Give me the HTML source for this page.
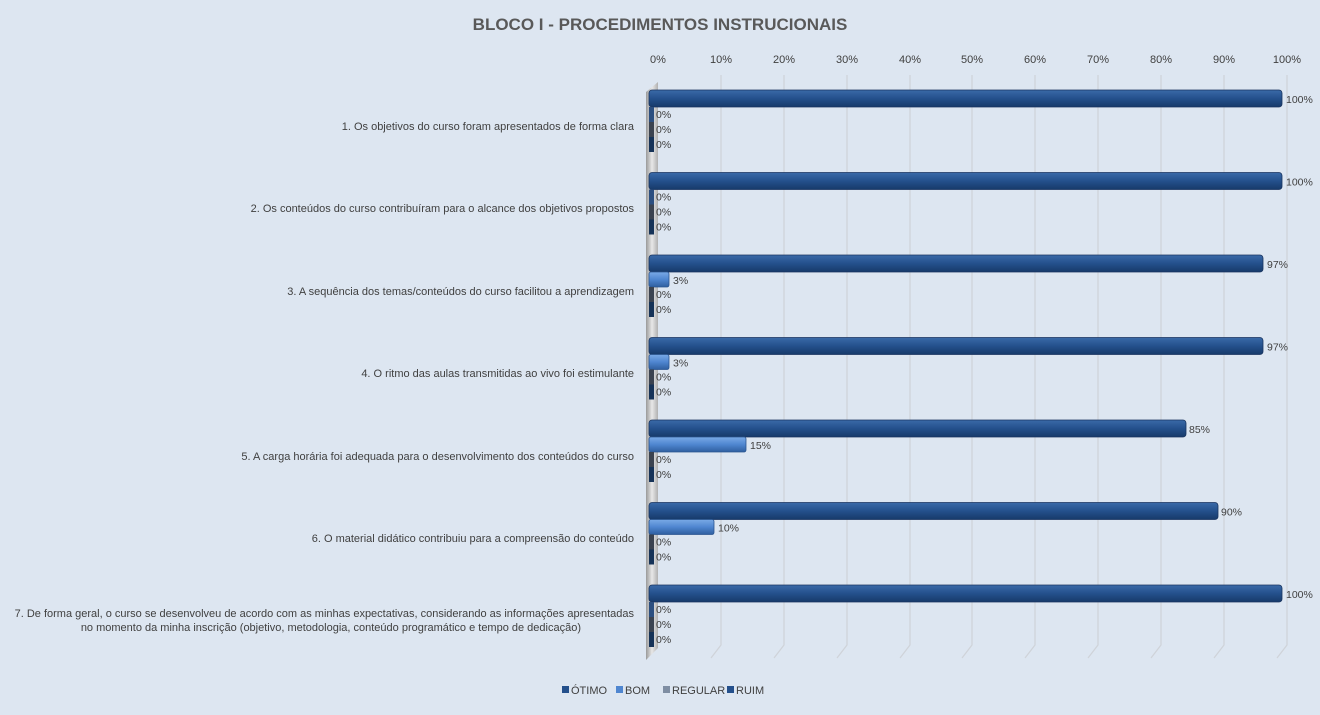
<!DOCTYPE html>
<html><head><meta charset="utf-8"><style>
body{margin:0;width:1320px;height:710px;background:#dde6f1;overflow:hidden}
</style></head><body>
<svg width="1320" height="710" xmlns="http://www.w3.org/2000/svg" font-family="Liberation Sans, sans-serif">
<defs>
<linearGradient id="g1" x1="0" y1="0" x2="0" y2="1"><stop offset="0" stop-color="#3a6aa8"/><stop offset="0.5" stop-color="#24508c"/><stop offset="1" stop-color="#173a6a"/></linearGradient>
<linearGradient id="g2" x1="0" y1="0" x2="0" y2="1"><stop offset="0" stop-color="#7aaae6"/><stop offset="0.5" stop-color="#4f86d0"/><stop offset="1" stop-color="#2f5f9f"/></linearGradient>
<linearGradient id="w" x1="0" y1="0" x2="1" y2="0"><stop offset="0" stop-color="#9a9a9a"/><stop offset="0.5" stop-color="#e8e8e8"/><stop offset="1" stop-color="#b0b0b0"/></linearGradient>
</defs>
<text x="660" y="30" text-anchor="middle" font-size="17" font-weight="bold" fill="#595959">BLOCO I - PROCEDIMENTOS  INSTRUCIONAIS</text>
<g font-size="11" fill="#404040" text-anchor="middle">
<text x="658" y="63">0%</text><text x="721" y="63">10%</text><text x="784" y="63">20%</text><text x="847" y="63">30%</text><text x="910" y="63">40%</text><text x="972" y="63">50%</text><text x="1035" y="63">60%</text><text x="1098" y="63">70%</text><text x="1161" y="63">80%</text><text x="1224" y="63">90%</text><text x="1287" y="63">100%</text>
</g>
<g stroke="#cfd3d9" stroke-width="1.2" fill="none">
<path d="M721 75 V645 L711 658"/><path d="M784 75 V645 L774 658"/><path d="M847 75 V645 L837 658"/><path d="M910 75 V645 L900 658"/><path d="M972 75 V645 L962 658"/><path d="M1035 75 V645 L1025 658"/><path d="M1098 75 V645 L1088 658"/><path d="M1161 75 V645 L1151 658"/><path d="M1224 75 V645 L1214 658"/><path d="M1287 75 V645 L1277 658"/>
</g>
<path d="M646 92 L658 82 V648 L646 660 Z" fill="url(#w)"/>

<g stroke="#1a3560" stroke-width="0.8" fill="url(#g1)">
<rect x="649" y="90" width="633" height="17" rx="3"/>
<rect x="649" y="172.5" width="633" height="17" rx="3"/>
<rect x="649" y="255" width="614" height="17" rx="3"/>
<rect x="649" y="337.5" width="614" height="17" rx="3"/>
<rect x="649" y="420" width="537" height="17" rx="3"/>
<rect x="649" y="502.5" width="569" height="17" rx="3"/>
<rect x="649" y="585" width="633" height="17" rx="3"/>
</g>
<g stroke="#2b5590" stroke-width="0.8" fill="url(#g2)">
<rect x="649" y="272" width="20" height="15" rx="2"/>
<rect x="649" y="354.5" width="20" height="15" rx="2"/>
<rect x="649" y="437" width="97" height="15" rx="2"/>
<rect x="649" y="519.5" width="65" height="15" rx="2"/>
</g>
<g fill="#2c4f80">
<rect x="649" y="107" width="5" height="15"/><rect x="649" y="189.5" width="5" height="15"/><rect x="649" y="602" width="5" height="15"/>
</g>
<g fill="#3b4350">
<rect x="649" y="122" width="5" height="15"/><rect x="649" y="204.5" width="5" height="15"/><rect x="649" y="287" width="5" height="15"/><rect x="649" y="369.5" width="5" height="15"/><rect x="649" y="452" width="5" height="15"/><rect x="649" y="534.5" width="5" height="15"/><rect x="649" y="617" width="5" height="15"/>
</g>
<g fill="#163358">
<rect x="649" y="137" width="5" height="15"/><rect x="649" y="219.5" width="5" height="15"/><rect x="649" y="302" width="5" height="15"/><rect x="649" y="384.5" width="5" height="15"/><rect x="649" y="467" width="5" height="15"/><rect x="649" y="549.5" width="5" height="15"/><rect x="649" y="632" width="5" height="15"/>
</g>

<g font-size="10.5" fill="#404040">
<text x="1286" y="103">100%</text>
<text x="1286" y="185.5">100%</text>
<text x="1267" y="268">97%</text>
<text x="1267" y="350.5">97%</text>
<text x="1189" y="433">85%</text>
<text x="1221" y="515.5">90%</text>
<text x="1286" y="598">100%</text>
<text x="673" y="284">3%</text>
<text x="673" y="366.5">3%</text>
<text x="750" y="449">15%</text>
<text x="718" y="531.5">10%</text>
<text x="656" y="118">0%</text><text x="656" y="133">0%</text><text x="656" y="148">0%</text>
<text x="656" y="200.5">0%</text><text x="656" y="215.5">0%</text><text x="656" y="230.5">0%</text>
<text x="656" y="298">0%</text><text x="656" y="313">0%</text>
<text x="656" y="380.5">0%</text><text x="656" y="395.5">0%</text>
<text x="656" y="463">0%</text><text x="656" y="478">0%</text>
<text x="656" y="545.5">0%</text><text x="656" y="560.5">0%</text>
<text x="656" y="613">0%</text><text x="656" y="628">0%</text><text x="656" y="643">0%</text>
</g>

<g font-size="11" fill="#404040" text-anchor="end">
<text x="634" y="130">1. Os objetivos do curso foram apresentados de forma clara</text>
<text x="634" y="212">2. Os conteúdos do curso contribuíram para o alcance dos objetivos propostos</text>
<text x="634" y="295">3. A sequência dos temas/conteúdos do curso facilitou a aprendizagem</text>
<text x="634" y="377">4. O ritmo das aulas transmitidas ao vivo foi estimulante</text>
<text x="634" y="460">5. A carga horária foi adequada para o desenvolvimento dos conteúdos do curso</text>
<text x="634" y="542">6. O material didático contribuiu para a compreensão do conteúdo</text>
<text x="634" y="617">7. De forma geral, o curso se desenvolveu de acordo com as minhas expectativas, considerando as informações apresentadas</text>
<text x="581" y="631">no momento da minha inscrição (objetivo, metodologia, conteúdo programático e tempo de dedicação)</text>
</g>
<g font-size="11" fill="#404040">
<rect x="562" y="686" width="7" height="7" fill="#24508c"/><text x="571" y="694">ÓTIMO</text>
<rect x="616" y="686" width="7" height="7" fill="#4f86d0"/><text x="625" y="694">BOM</text>
<rect x="663" y="686" width="7" height="7" fill="#7f8ea3"/><text x="672" y="694">REGULAR</text>
<rect x="727" y="686" width="7" height="7" fill="#24508c"/><text x="736" y="694">RUIM</text>
</g>
</svg>
</body></html>
